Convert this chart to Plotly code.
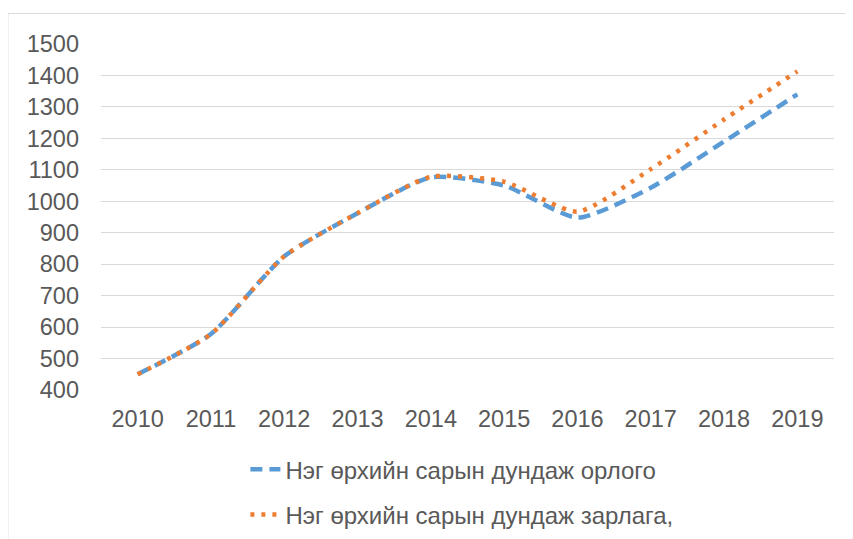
import plotly.graph_objects as go

years = ["2010", "2011", "2012", "2013", "2014", "2015", "2016", "2017", "2018", "2019"]
income = [450, 578, 825, 962, 1076, 1050, 948, 1043, 1190, 1340]
expense = [450, 578, 825, 962, 1078, 1062, 967, 1102, 1260, 1413]
income_name = "Нэг өрхийн сарын дундаж орлого"
expense_name = "Нэг өрхийн сарын дундаж зарлага,"
y_ticks = list(range(400, 1501, 100))

fig = go.Figure()
fig.add_trace(go.Scatter(
    x=years, y=income, mode="lines", name=income_name, legendgroup="a",
    line=dict(color="#5B9BD5", width=4.5, dash="12px,7px", shape="spline", smoothing=0.6),
))
fig.add_trace(go.Scatter(
    x=years, y=expense, mode="lines", name=expense_name, legendgroup="b",
    line=dict(color="#ED7D31", width=4.5, dash="4px,7px", shape="spline", smoothing=0.6),
))

font = dict(family="Liberation Sans, Arial, sans-serif", size=23.5, color="#595959")
legend_font = dict(family="Liberation Sans, Arial, sans-serif", size=24, color="#595959")

fig.update_layout(
    width=845, height=531,
    margin=dict(l=93, r=19, t=35.5, b=149, autoexpand=False),
    paper_bgcolor="white", plot_bgcolor="white",
    font=font,
    showlegend=True,
    legend=dict(
        orientation="v", x=0.197, xanchor="left", y=-0.165, yanchor="top",
        font=legend_font, tracegroupgap=11, bgcolor="rgba(0,0,0,0)",
    ),
    xaxis=dict(
        type="category", range=[-0.5, 9.5], showgrid=False, showline=False, ticks="",
        tickfont=font, ticklabelstandoff=12,
    ),
    yaxis=dict(
        range=[400, 1500], tickvals=y_ticks, showgrid=True, gridcolor="#d9d9d9",
        gridwidth=1, zeroline=False, showline=False, ticks="",
        tickfont=font, ticklabelstandoff=21,
    ),
    shapes=[dict(
        type="rect", xref="paper", yref="paper", x0=-0.127, x1=1.2, y0=-0.6, y1=1.088,
        line=dict(color="#d9d9d9", width=1), fillcolor="rgba(0,0,0,0)", layer="below",
    )],
)

fig.write_html("out.html")
